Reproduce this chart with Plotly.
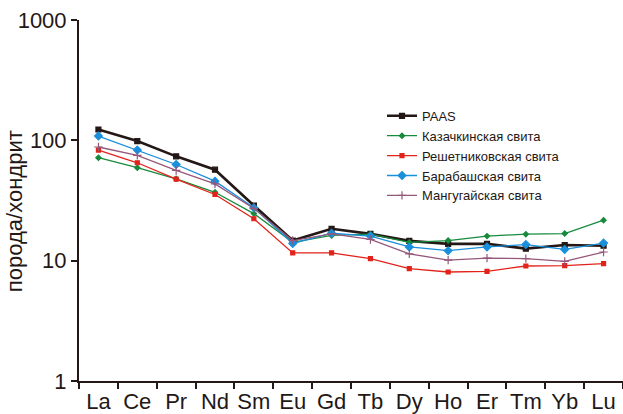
import plotly.graph_objects as go

elements = ["La", "Ce", "Pr", "Nd", "Sm", "Eu", "Gd", "Tb", "Dy", "Ho", "Er", "Tm", "Yb", "Lu"]

paas = [123, 98.6, 73.6, 57, 28.7, 14.7, 18.4, 16.7, 14.6, 13.8, 13.8, 12.6, 13.5, 13.3]
kazachkinskaya = [71.7, 59.2, 47.9, 37, 24.6, 14.2, 16.2, 16.6, 14.2, 14.7, 16.0, 16.6, 16.8, 21.7]
reshetnikovskaya = [83, 65.1, 47.6, 35.5, 22.3, 11.6, 11.6, 10.4, 8.6, 8.05, 8.15, 9.03, 9.08, 9.44]
barabashskaya = [108.6, 83, 63, 45.8, 27.5, 13.9, 16.9, 16.0, 13.0, 12.1, 13.0, 13.6, 12.4, 14.0]
mangugayskaya = [88, 75, 56.2, 43.5, 27.1, 14.7, 16.7, 15.0, 11.4, 10.1, 10.5, 10.4, 9.87, 11.8]

y_ticks = [1, 10, 100, 1000]
y_tick_text = ["1", "10", "100", "1000"]

series = [
    ("PAAS", paas, "#231815", 2.6, "square", 5),
    ("Казачкинская свита", kazachkinskaya, "#178a3c", 1.3, "diamond", 4),
    ("Решетниковская свита", reshetnikovskaya, "#e2231a", 1.3, "square", 4),
    ("Барабашская свита", barabashskaya, "#1a8fdc", 1.3, "diamond", 6),
    ("Мангугайская свита", mangugayskaya, "#95577a", 1.3, "cross-thin", 6),
]

fig = go.Figure()
for name, vals, color, lw, sym, ms in series:
    fig.add_trace(go.Scatter(
        x=elements, y=vals, name=name, mode="lines+markers",
        line=dict(color=color, width=lw),
        marker=dict(symbol=sym, size=ms, color=color, line=dict(color=color, width=1.2)),
    ))

fig.update_layout(
    width=623, height=414,
    margin=dict(l=79, r=0, t=20, b=33),
    paper_bgcolor="white", plot_bgcolor="white",
    font=dict(family="Liberation Sans, Arial, sans-serif", color="#231815"),
    showlegend=True,
    legend=dict(
        x=0.557, y=0.776, xanchor="left", yanchor="top",
        font=dict(size=13, color="#231815"),
        bgcolor="rgba(0,0,0,0)", tracegroupgap=0,
        itemwidth=30,
    ),
)
fig.update_xaxes(
    type="category", range=[-0.5, 13.5], automargin=False, tickangle=0,
    tickson="boundaries", ticks="outside", ticklen=6, tickwidth=2, tickcolor="#231815",
    showline=True, linecolor="#231815", linewidth=2,
    showgrid=False, zeroline=False,
    tickfont=dict(size=22, color="#231815"),
)
fig.update_yaxes(
    type="log", range=[0, 3], automargin=False,
    tickvals=y_ticks, ticktext=y_tick_text,
    ticks="outside", ticklen=6, tickwidth=2, tickcolor="#231815",
    showline=True, linecolor="#231815", linewidth=2,
    showgrid=False, zeroline=False,
    tickfont=dict(size=22, color="#231815"),
)
fig.add_annotation(
    text="порода/хондрит", textangle=-90,
    xref="paper", yref="paper", x=-0.118, y=0.47,
    xanchor="center", yanchor="middle", showarrow=False,
    font=dict(size=22, color="#231815"),
)

fig.write_html(
    "out.html",
    config={"displayModeBar": False},
    post_script="document.body.style.margin='0';document.body.style.overflow='hidden';",
)
